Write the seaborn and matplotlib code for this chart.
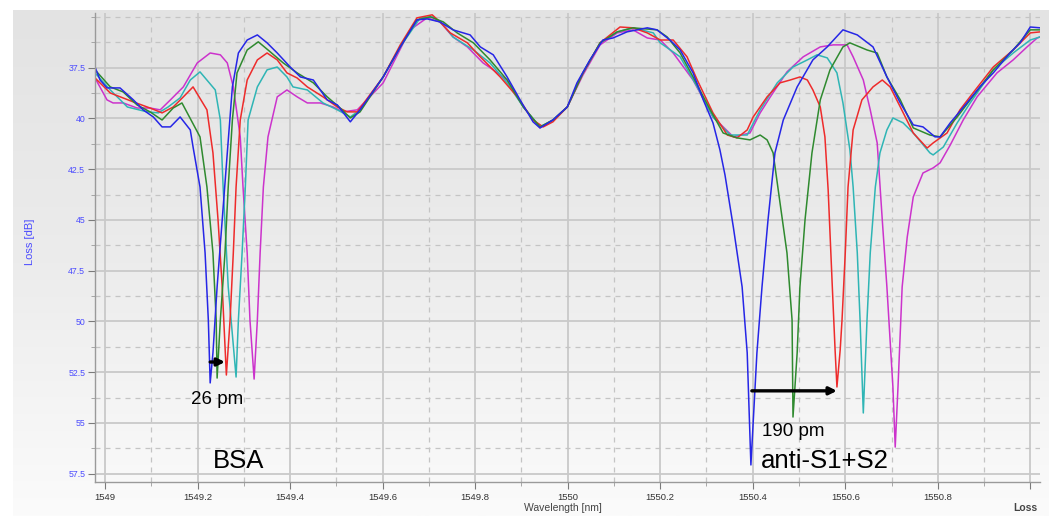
import numpy as np
import pandas as pd
import matplotlib
matplotlib.use("Agg")
import matplotlib.pyplot as plt
from matplotlib.colors import LinearSegmentedColormap
from matplotlib.ticker import FixedLocator, MultipleLocator
import seaborn as sns

# ---- traces (wavelength nm, loss dB) ----
blue_wl = [1548.978, 1548.989, 1549.004, 1549.032, 1549.061, 1549.082, 1549.104, 1549.123, 1549.141, 1549.162,
           1549.184, 1549.190, 1549.205, 1549.216, 1549.223, 1549.227, 1549.233, 1549.242, 1549.253, 1549.264,
           1549.275, 1549.288, 1549.307, 1549.329, 1549.350, 1549.372, 1549.400, 1549.422, 1549.450, 1549.480,
           1549.502, 1549.530, 1549.551, 1549.601, 1549.638, 1549.674, 1549.696, 1549.724, 1549.752, 1549.789,
           1549.811, 1549.839, 1549.869, 1549.897, 1549.925, 1549.940, 1549.968, 1549.999, 1550.020, 1550.048,
           1550.076, 1550.098, 1550.128, 1550.172, 1550.193, 1550.221, 1550.243, 1550.271, 1550.293, 1550.314,
           1550.329, 1550.340, 1550.358, 1550.377, 1550.388, 1550.396, 1550.409, 1550.420, 1550.433, 1550.448,
           1550.466, 1550.496, 1550.530, 1550.561, 1550.595, 1550.626, 1550.660, 1550.690, 1550.719, 1550.747,
           1550.768, 1550.794, 1550.805, 1550.827, 1550.863, 1550.891, 1550.920, 1550.956, 1550.978, 1551.000,
           1551.021]
blue_loss = [37.47, 38.11, 38.50, 38.50, 39.09, 39.58, 39.93, 40.42, 40.42, 39.93,
             40.57, 41.41, 43.38, 46.63, 49.93, 53.03, 51.55, 48.30, 45.00, 41.70,
             38.45, 36.78, 36.14, 35.89, 36.28, 36.78, 37.47, 37.96, 38.11, 39.09,
             39.34, 40.17, 39.58, 37.96, 36.48, 35.15, 35.10, 35.25, 35.64, 35.89,
             36.48, 36.87, 37.96, 39.09, 40.17, 40.47, 40.08, 39.44, 38.25, 37.12,
             36.14, 36.04, 35.74, 35.54, 35.64, 36.14, 36.63, 37.76, 39.09, 40.22,
             41.55, 42.79, 45.35, 48.30, 51.55, 57.07, 51.55, 48.30, 45.00, 41.70,
             40.08, 38.45, 37.12, 36.48, 35.64, 35.89, 36.48, 37.96, 39.24, 40.32,
             40.42, 40.91, 40.91, 40.22, 39.24, 38.45, 37.76, 36.78, 36.28, 35.50,
             35.54]

green_wl = [1548.978, 1549.011, 1549.039, 1549.069, 1549.097, 1549.123, 1549.147, 1549.166, 1549.205, 1549.220,
            1549.233, 1549.240, 1549.242, 1549.249, 1549.259, 1549.266, 1549.275, 1549.285, 1549.307, 1549.331,
            1549.352, 1549.385, 1549.415, 1549.450, 1549.480, 1549.508, 1549.530, 1549.551, 1549.601, 1549.638,
            1549.674, 1549.703, 1549.731, 1549.761, 1549.796, 1549.832, 1549.869, 1549.904, 1549.940, 1549.968,
            1549.999, 1550.033, 1550.070, 1550.107, 1550.141, 1550.193, 1550.215, 1550.243, 1550.271, 1550.308,
            1550.336, 1550.366, 1550.394, 1550.416, 1550.431, 1550.444, 1550.459, 1550.474, 1550.485, 1550.487,
            1550.496, 1550.502, 1550.513, 1550.528, 1550.546, 1550.567, 1550.595, 1550.610, 1550.647, 1550.669,
            1550.690, 1550.719, 1550.747, 1550.783, 1550.805, 1550.842, 1550.870, 1550.920, 1550.963, 1551.000,
            1551.021]
green_loss = [37.61, 38.45, 38.70, 39.34, 39.68, 40.08, 39.49, 39.24, 40.91, 43.38,
              46.63, 49.93, 52.79, 49.93, 46.63, 43.38, 40.08, 37.76, 36.63, 36.23,
              36.63, 37.27, 37.76, 38.25, 38.94, 39.49, 39.98, 39.68, 37.96, 36.48,
              35.15, 35.00, 35.25, 35.79, 36.28, 37.12, 38.11, 39.44, 40.42, 40.08,
              39.44, 37.76, 36.28, 35.74, 35.54, 35.64, 35.99, 36.78, 37.96, 39.58,
              40.72, 40.96, 41.06, 40.82, 41.06, 41.70, 44.17, 46.63, 49.93, 54.71,
              51.55, 48.30, 45.00, 41.70, 39.09, 37.61, 36.48, 36.28, 36.63, 36.78,
              37.96, 39.09, 40.47, 40.82, 40.91, 39.93, 39.09, 37.61, 36.63, 35.64,
              35.64]

red_wl = [1548.978, 1549.011, 1549.061, 1549.097, 1549.123, 1549.147, 1549.169, 1549.190, 1549.220, 1549.233,
          1549.244, 1549.253, 1549.262, 1549.270, 1549.277, 1549.283, 1549.292, 1549.307, 1549.329, 1549.350,
          1549.372, 1549.393, 1549.415, 1549.437, 1549.471, 1549.502, 1549.523, 1549.545, 1549.601, 1549.638,
          1549.674, 1549.707, 1549.724, 1549.746, 1549.783, 1549.811, 1549.854, 1549.891, 1549.925, 1549.947,
          1549.968, 1549.999, 1550.033, 1550.070, 1550.113, 1550.141, 1550.172, 1550.200, 1550.228, 1550.258,
          1550.280, 1550.314, 1550.345, 1550.366, 1550.388, 1550.401, 1550.431, 1550.459, 1550.481, 1550.502,
          1550.518, 1550.530, 1550.546, 1550.556, 1550.563, 1550.572, 1550.578, 1550.582, 1550.589, 1550.593,
          1550.600, 1550.606, 1550.617, 1550.636, 1550.660, 1550.680, 1550.697, 1550.719, 1550.747, 1550.777,
          1550.790, 1550.820, 1550.848, 1550.876, 1550.920, 1550.963, 1551.000, 1551.021]
red_loss = [38.01, 38.75, 39.19, 39.49, 39.73, 39.44, 38.94, 38.45, 39.58, 41.70,
            45.00, 48.30, 52.64, 49.93, 46.63, 43.38, 40.08, 38.11, 37.12, 36.78,
            37.12, 37.76, 38.01, 38.45, 38.94, 39.44, 39.68, 39.68, 37.96, 36.38,
            35.05, 34.90, 35.25, 35.79, 36.28, 36.97, 37.96, 38.94, 40.08, 40.42,
            40.17, 39.44, 37.76, 36.28, 35.50, 35.54, 35.79, 36.14, 36.14, 36.97,
            38.11, 39.73, 40.82, 40.96, 40.57, 39.93, 38.94, 38.25, 38.11, 37.96,
            38.11, 38.60, 39.44, 40.91, 43.52, 48.30, 51.41, 53.23, 51.41, 49.93,
            46.63, 43.38, 40.57, 39.09, 38.45, 38.11, 38.45, 39.44, 40.72, 41.46,
            41.21, 40.72, 39.58, 38.75, 37.47, 36.63, 35.79, 35.74]

cyan_wl = [1548.978, 1549.011, 1549.048, 1549.091, 1549.115, 1549.136, 1549.162, 1549.184, 1549.205, 1549.238,
           1549.249, 1549.255, 1549.266, 1549.283, 1549.288, 1549.296, 1549.303, 1549.309, 1549.329, 1549.350,
           1549.372, 1549.393, 1549.406, 1549.437, 1549.471, 1549.502, 1549.530, 1549.551, 1549.601, 1549.638,
           1549.681, 1549.709, 1549.731, 1549.752, 1549.796, 1549.832, 1549.869, 1549.904, 1549.940, 1549.968,
           1549.999, 1550.033, 1550.070, 1550.107, 1550.141, 1550.185, 1550.200, 1550.243, 1550.280, 1550.314,
           1550.351, 1550.388, 1550.416, 1550.453, 1550.487, 1550.518, 1550.539, 1550.561, 1550.582, 1550.595,
           1550.610, 1550.617, 1550.626, 1550.632, 1550.639, 1550.647, 1550.654, 1550.665, 1550.675, 1550.690,
           1550.703, 1550.725, 1550.747, 1550.783, 1550.790, 1550.812, 1550.842, 1550.870, 1550.920, 1550.963,
           1551.000, 1551.021]
cyan_loss = [37.76, 38.60, 39.44, 39.68, 39.73, 39.44, 38.99, 38.11, 37.71, 38.60,
             40.08, 43.38, 48.30, 52.74, 49.93, 46.63, 43.38, 40.08, 38.45, 37.61,
             37.47, 37.96, 38.45, 38.60, 39.24, 39.58, 39.93, 39.58, 37.96, 36.48,
             35.05, 35.00, 35.40, 35.99, 36.63, 37.27, 38.25, 39.44, 40.42, 40.08,
             39.44, 37.76, 36.28, 35.74, 35.54, 35.79, 36.28, 36.97, 38.45, 39.93,
             40.82, 40.82, 39.58, 38.25, 37.47, 37.12, 36.87, 37.02, 37.76, 39.24,
             41.55, 43.38, 46.63, 49.93, 54.51, 49.93, 46.63, 43.38, 41.70, 40.57,
             39.98, 40.22, 40.72, 41.70, 41.80, 41.41, 40.22, 39.24, 37.61, 36.78,
             36.14, 35.99]

magenta_wl = [1548.978, 1549.004, 1549.017, 1549.039, 1549.069, 1549.097, 1549.119, 1549.141, 1549.169, 1549.199,
              1549.227, 1549.249, 1549.264, 1549.277, 1549.292, 1549.298, 1549.307, 1549.313, 1549.322, 1549.329,
              1549.335, 1549.342, 1549.352, 1549.372, 1549.393, 1549.415, 1549.437, 1549.465, 1549.493, 1549.514,
              1549.545, 1549.566, 1549.601, 1549.659, 1549.696, 1549.724, 1549.752, 1549.783, 1549.817, 1549.839,
              1549.869, 1549.904, 1549.940, 1549.968, 1549.999, 1550.033, 1550.070, 1550.107, 1550.141, 1550.172,
              1550.200, 1550.228, 1550.271, 1550.314, 1550.358, 1550.394, 1550.416, 1550.438, 1550.474, 1550.509,
              1550.546, 1550.574, 1550.604, 1550.617, 1550.639, 1550.654, 1550.669, 1550.680, 1550.690, 1550.703,
              1550.708, 1550.714, 1550.723, 1550.734, 1550.747, 1550.768, 1550.790, 1550.805, 1550.827, 1550.855,
              1550.885, 1550.928, 1550.963, 1550.993, 1551.015, 1551.021]
magenta_loss = [38.01, 39.09, 39.24, 39.24, 39.49, 39.49, 39.58, 39.09, 38.45, 37.27,
                36.78, 36.87, 37.27, 38.45, 40.91, 43.38, 46.63, 49.93, 52.84, 49.93,
                46.63, 43.38, 40.91, 38.94, 38.60, 38.94, 39.24, 39.24, 39.44, 39.68,
                39.58, 39.09, 38.25, 35.64, 35.05, 35.25, 35.99, 36.48, 37.27, 37.61,
                38.11, 39.44, 40.47, 40.08, 39.44, 37.86, 36.38, 35.79, 35.64, 36.04,
                36.14, 36.78, 38.11, 39.93, 40.91, 40.72, 39.73, 38.94, 37.71, 36.97,
                36.48, 36.38, 36.38, 36.97, 38.11, 39.58, 41.21, 45.00, 48.30, 53.23,
                56.19, 53.23, 48.30, 45.84, 43.87, 42.69, 42.44, 42.19, 41.31, 40.08,
                38.94, 37.76, 37.12, 36.48, 36.04, 35.99]

x_ticks = [1549.0, 1549.2, 1549.4, 1549.6, 1549.8, 1550.0, 1550.2, 1550.4, 1550.6, 1550.8, 1551.0]
x_labels = ["1549", "1549.2", "1549.4", "1549.6", "1549.8", "1550", "1550.2", "1550.4", "1550.6", "1550.8", ""]
y_ticks = [37.5, 40, 42.5, 45, 47.5, 50, 52.5, 55, 57.5]
y_labels = ["37.5", "40", "42.5", "45", "47.5", "50", "52.5", "55", "57.5"]

traces = [
    (magenta_wl, magenta_loss, "#cc33cc"),
    (cyan_wl, cyan_loss, "#2fb5b5"),
    (red_wl, red_loss, "#ee2b2b"),
    (green_wl, green_loss, "#2f8a2f"),
    (blue_wl, blue_loss, "#2626e6"),
]

plt.rcParams["font.family"] = ["Liberation Sans", "DejaVu Sans"]

W, H = 1049, 516
fig = plt.figure(figsize=(W / 100, H / 100), dpi=100)
fig.patch.set_facecolor("white")

# grey panel with a soft vertical gradient, like the instrument software
bg = fig.add_axes([13 / W, 0, 1 - 13 / W, 1 - 10 / H], zorder=0)
grad = np.linspace(0, 1, 256).reshape(-1, 1)
cmap = LinearSegmentedColormap.from_list("panel", ["#e3e3e3", "#ececec", "#fbfbfb"])
bg.imshow(grad, aspect="auto", cmap=cmap, extent=[0, 1, 0, 1], origin="upper")
bg.axis("off")

ax = fig.add_axes([95 / W, 1 - 482 / H, 945 / W, 469 / H], zorder=1)
ax.patch.set_alpha(0)

for wl, loss, col in traces:
    df = pd.DataFrame({"wl": wl, "loss": loss})
    sns.lineplot(data=df, x="wl", y="loss", ax=ax, color=col, lw=1.1,
                 estimator=None, sort=False)

ax.set_xlim(1548.978, 1551.021)
ax.set_ylim(57.91, 34.81)

ax.xaxis.set_major_locator(FixedLocator(x_ticks))
ax.set_xticklabels(x_labels)
ax.xaxis.set_minor_locator(MultipleLocator(0.1))
ax.yaxis.set_major_locator(FixedLocator(y_ticks))
ax.set_yticklabels(y_labels)
ax.yaxis.set_minor_locator(MultipleLocator(1.25))

ax.grid(which="major", color="#c9c9c9", lw=1.3)
ax.grid(which="minor", color="#c4c4c4", lw=0.9, ls=(0, (4, 4)))
ax.set_axisbelow(True)

ax.tick_params(which="major", direction="out", length=5, width=0.8, color="#7a7a7a")
ax.tick_params(which="minor", direction="out", length=3, width=0.6, color="#9a9a9a")
ax.tick_params(axis="y", labelsize=6.3, labelcolor="#4b4bff", pad=2)
ax.tick_params(axis="x", labelsize=6.8, labelcolor="#333333", pad=3)
for side in ["top", "right"]:
    ax.spines[side].set_visible(False)
for side in ["left", "bottom"]:
    ax.spines[side].set_color("#9a9a9a")
    ax.spines[side].set_linewidth(1.0)
ax.set_xlabel("")
ax.set_ylabel("")

fig.text(30 / W, 1 - 242 / H, "Loss [dB]", rotation=90, color="#4b4bff",
         fontsize=8, ha="center", va="center")
fig.text(563 / W, 1 - 508 / H, "Wavelength [nm]", color="#444444",
         fontsize=7.5, ha="center", va="center")
fig.text(1025 / W, 1 - 508 / H, "Loss", color="#444444", fontsize=7.5,
         fontweight="bold", ha="center", va="center")

# shift arrows and labels
arrow = dict(arrowstyle="-|>", color="black", lw=2.4, mutation_scale=11,
             shrinkA=0, shrinkB=0)
ax.annotate("", xy=(1549.259, 52.0), xytext=(1549.227, 52.0), arrowprops=arrow)
ax.annotate("", xy=(1550.582, 53.42), xytext=(1550.398, 53.42), arrowprops=arrow)

ax.text(1549.242, 53.85, "26 pm", fontsize=13.5, ha="center", va="center")
ax.text(1550.487, 55.4, "190 pm", fontsize=13.5, ha="center", va="center")
ax.text(1549.288, 56.9, "BSA", fontsize=18.5, ha="center", va="center")
ax.text(1550.556, 56.9, "anti-S1+S2", fontsize=18.5, ha="center", va="center")

fig.savefig("out.png", dpi=100)
